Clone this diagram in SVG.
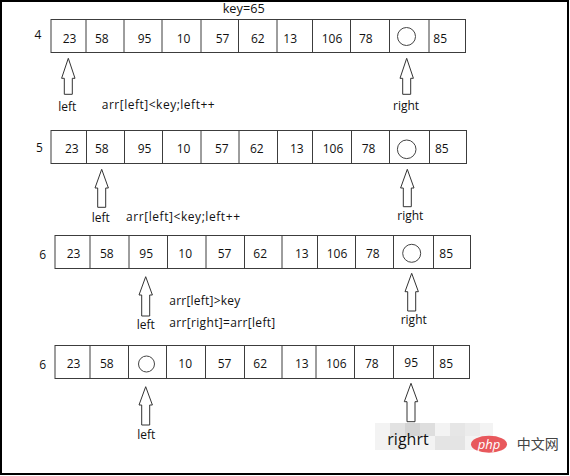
<svg xmlns="http://www.w3.org/2000/svg" width="570" height="476" viewBox="0 0 570 476">
<style>
.cell{fill:none;stroke:#3c3c3c;stroke-width:1}
.t{font-family:"Open Sans","Liberation Sans",sans-serif;font-size:12px;fill:#111}
.arr{fill:#fff;stroke:#333;stroke-width:1}
.hole{fill:#fff;stroke:#444;stroke-width:1}
</style>
<rect x="1" y="1" width="567" height="473" fill="#fff" stroke="#000" stroke-width="2"/>
<text class="t" x="222.7" y="12.5" textLength="42" lengthAdjust="spacingAndGlyphs">key=65</text>

<g id="row1">
<text class="t" x="34.5" y="38.5">4</text>
<rect class="cell" x="51" y="19.5" width="414.5" height="33"/>
<path class="cell" d="M86 19.5V52.5M124 19.5V52.5M162 19.5V52.5M201 19.5V52.5M238.5 19.5V52.5M277 19.5V52.5M312.5 19.5V52.5M350.5 19.5V52.5M389.5 19.5V52.5M429 19.5V52.5"/>
<text class="t" x="62.7" y="43">23</text><text class="t" x="95" y="43">58</text><text class="t" x="137.7" y="43">95</text><text class="t" x="176.7" y="43">10</text><text class="t" x="215.7" y="43">57</text><text class="t" x="251" y="43">62</text><text class="t" x="283.3" y="43">13</text><text class="t" x="321.7" y="43">106</text><text class="t" x="359" y="43">78</text><text class="t" x="433.3" y="43">85</text>
<circle class="hole" cx="406.5" cy="36.5" r="9"/>
</g>

<g id="row2">
<text class="t" x="36" y="152">5</text>
<rect class="cell" x="51" y="130.5" width="415.5" height="33"/>
<path class="cell" d="M86.5 130.5V163.5M124.5 130.5V163.5M162.5 130.5V163.5M201 130.5V163.5M239 130.5V163.5M277.5 130.5V163.5M312.5 130.5V163.5M351.5 130.5V163.5M389.5 130.5V163.5M429.5 130.5V163.5"/>
<text class="t" x="65" y="153">23</text><text class="t" x="95" y="153">58</text><text class="t" x="137.7" y="153">95</text><text class="t" x="176.7" y="153">10</text><text class="t" x="215" y="153">57</text><text class="t" x="250" y="153">62</text><text class="t" x="290" y="153">13</text><text class="t" x="322.7" y="153">106</text><text class="t" x="361.7" y="153">78</text><text class="t" x="435" y="153">85</text>
<circle class="hole" cx="406.7" cy="149.3" r="9.3"/>
</g>

<g id="row3">
<text class="t" x="39.3" y="258.5">6</text>
<rect class="cell" x="55" y="235.5" width="415.5" height="33"/>
<path class="cell" d="M90 235.5V268.5M129 235.5V268.5M167.5 235.5V268.5M206 235.5V268.5M244.5 235.5V268.5M282 235.5V268.5M317.5 235.5V268.5M355.5 235.5V268.5M393.5 235.5V268.5M433.5 235.5V268.5"/>
<text class="t" x="66.7" y="258">23</text><text class="t" x="100" y="258">58</text><text class="t" x="139.3" y="258">95</text><text class="t" x="178.3" y="258">10</text><text class="t" x="217.7" y="258">57</text><text class="t" x="253.3" y="258">62</text><text class="t" x="295" y="258">13</text><text class="t" x="326.7" y="258">106</text><text class="t" x="366" y="258">78</text><text class="t" x="439.3" y="258">85</text>
<circle class="hole" cx="411.7" cy="253.3" r="9"/>
</g>

<g id="row4">
<text class="t" x="39.3" y="368.5">6</text>
<rect class="cell" x="55" y="345.5" width="414.5" height="33"/>
<path class="cell" d="M90 345.5V378.5M128.5 345.5V378.5M166.5 345.5V378.5M205.5 345.5V378.5M244.5 345.5V378.5M282 345.5V378.5M316 345.5V378.5M354.5 345.5V378.5M393.5 345.5V378.5M433.5 345.5V378.5"/>
<text class="t" x="66.7" y="368">23</text><text class="t" x="100" y="368">58</text><text class="t" x="178.3" y="368">10</text><text class="t" x="217.7" y="368">57</text><text class="t" x="253.3" y="368">62</text><text class="t" x="295" y="368">13</text><text class="t" x="326" y="368">106</text><text class="t" x="365" y="368">78</text><text class="t" x="404.3" y="367">95</text><text class="t" x="439.3" y="368">85</text>
<circle class="hole" cx="146.5" cy="364" r="8"/>
</g>

<g id="connectors">
<path class="arr" d="M68.3 58.3L75 78.3H72.3V94.3H64.3V78.3H61.6Z"/>
<path class="arr" d="M406.7 58.3L413.4 78.3H410.7V94.3H402.7V78.3H400Z"/>
<path class="arr" d="M101.7 169.3L108.4 188H105.7V207.3H97.7V188H95Z"/>
<path class="arr" d="M407.3 169.3L414 188H411.3V206.7H403.3V188H400.6Z"/>
<path class="arr" d="M145.7 276.7L152.4 295H149.7V316H141.7V295H139Z"/>
<path class="arr" d="M411.7 273.3L418.4 291.7H415.7V311H407.7V291.7H405Z"/>
<path class="arr" d="M145.7 386.7L152.4 405H149.7V425H141.7V405H139Z"/>
<path class="arr" d="M411 383.3L417.7 401.7H415V421.7H407V401.7H404.3Z"/>
</g>

<g id="labels">
<text class="t" x="58.3" y="110.7">left</text>
<text class="t" x="101.7" y="109" textLength="113" lengthAdjust="spacing">arr[left]&lt;key;left++</text>
<text class="t" x="393" y="110" font-size="13">right</text>
<text class="t" x="91.7" y="221.7">left</text>
<text class="t" x="126" y="221" textLength="114" lengthAdjust="spacing">arr[left]&lt;key;left++</text>
<text class="t" x="397.3" y="220">right</text>
<text class="t" x="169.3" y="305" textLength="71" lengthAdjust="spacing">arr[left]&gt;key</text>
<text class="t" x="169.3" y="326.7" textLength="106" lengthAdjust="spacing">arr[right]=arr[left]</text>
<text class="t" x="136.7" y="328.5">left</text>
<text class="t" x="400.7" y="324">right</text>
<text class="t" x="137.3" y="439">left</text>
</g>

<g id="watermark">
<rect x="375" y="423" width="118" height="27" fill="#f3f3f3"/>
<rect x="390" y="423" width="15" height="13" fill="#e2e2e2"/>
<rect x="405" y="423" width="15" height="13" fill="#d4d4d4"/>
<rect x="420" y="423" width="15" height="13" fill="#dedede"/>
<rect x="450" y="423" width="15" height="13" fill="#e6e6e6"/>
<rect x="465" y="423" width="15" height="13" fill="#ececec"/>
<rect x="390" y="436" width="15" height="14" fill="#ebebeb"/>
<rect x="435" y="436" width="30" height="14" fill="#e4e4e4"/>
<text x="387.3" y="445" font-family="'Open Sans','Liberation Sans',sans-serif" font-size="16" fill="#111">righrt</text>
<ellipse cx="489" cy="444.3" rx="18" ry="8.5" fill="#e8585c"/>
<text x="489" y="448.5" text-anchor="middle" font-family="'Open Sans','Liberation Sans',sans-serif" font-style="italic" font-size="13" fill="#fff">php</text>
<text x="516.7" y="449" font-family="'Noto Sans CJK SC',sans-serif" font-size="14" fill="#444">中文网</text>
</g>
</svg>
